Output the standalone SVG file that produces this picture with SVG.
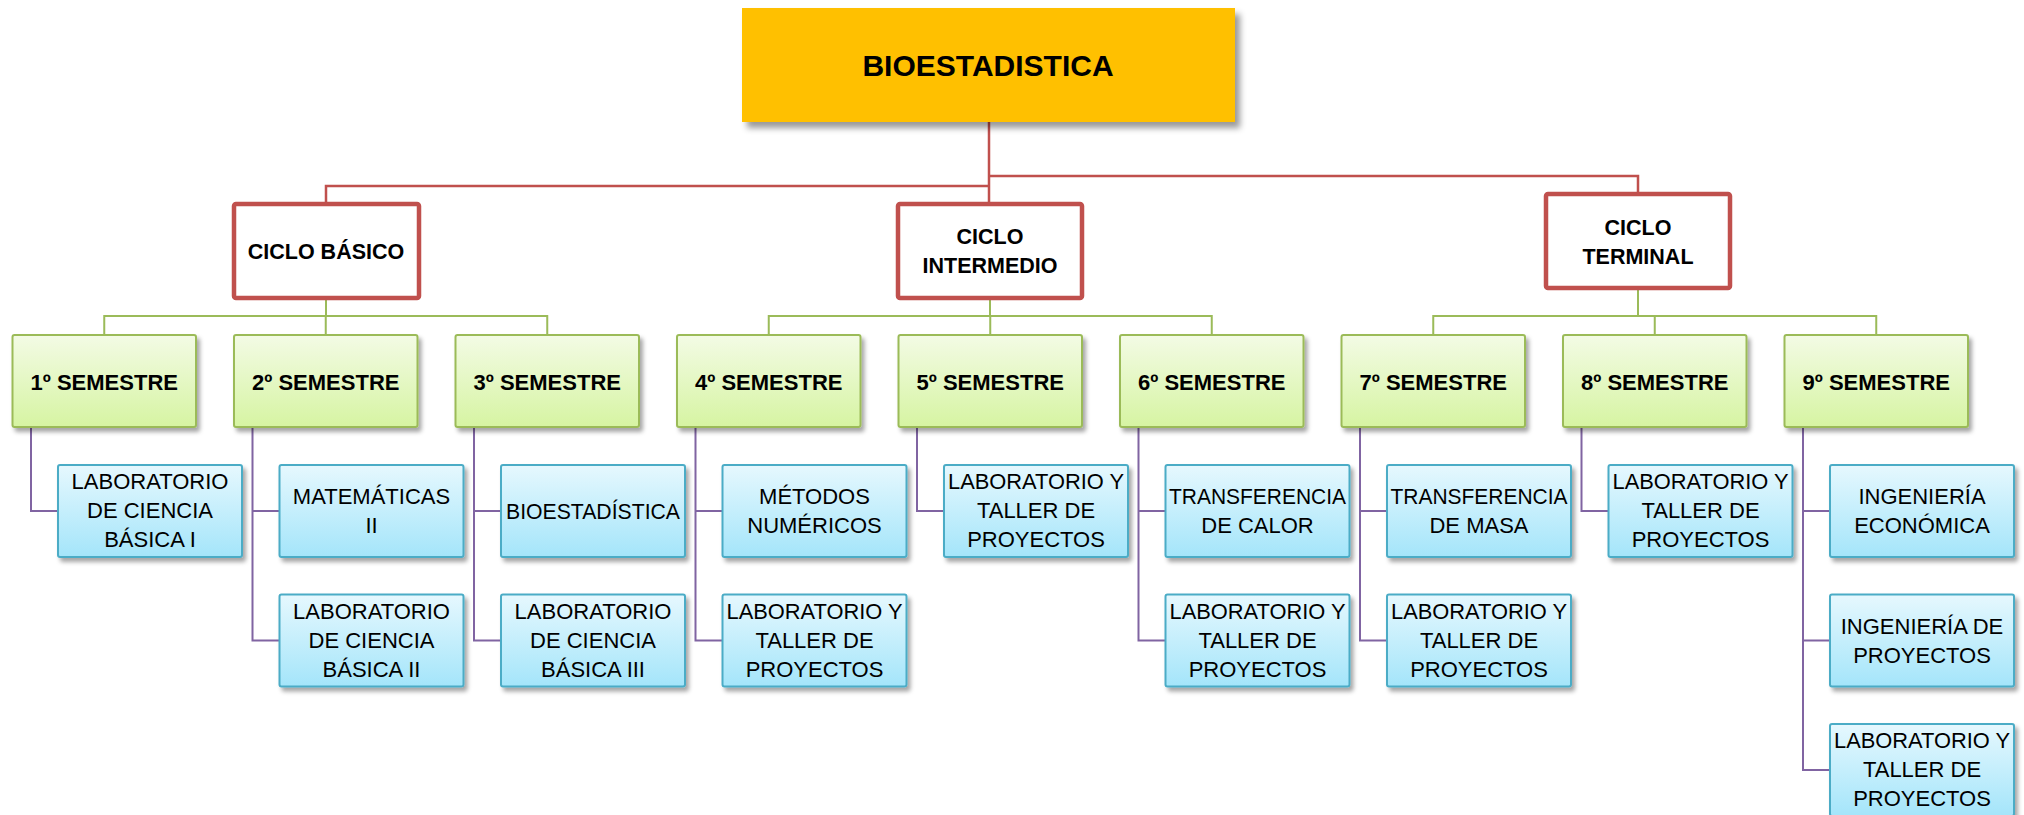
<svg xmlns="http://www.w3.org/2000/svg" width="2024" height="815" viewBox="0 0 2024 815">
<defs>
<linearGradient id="gGreen" x1="0" y1="0" x2="0" y2="1"><stop offset="0" stop-color="#F3FBE5"/><stop offset="1" stop-color="#D6F4A2"/></linearGradient>
<linearGradient id="gBlue" x1="0" y1="0" x2="0" y2="1"><stop offset="0" stop-color="#E6F8FE"/><stop offset="1" stop-color="#A4E5FA"/></linearGradient>
<filter id="sh" x="-10%" y="-10%" width="130%" height="140%"><feDropShadow dx="3" dy="4" stdDeviation="2" flood-color="#000" flood-opacity="0.35"/></filter>
<filter id="shBig" x="-10%" y="-10%" width="130%" height="140%"><feDropShadow dx="5" dy="6" stdDeviation="3" flood-color="#000" flood-opacity="0.4"/></filter>
<style>
.t{font-family:"Liberation Sans",Arial,sans-serif;fill:#000;text-anchor:middle}
.root{font-size:30px;font-weight:bold}
.cyc{font-size:21.5px;font-weight:bold}
.sem{font-size:22px;font-weight:bold}
.sub{font-size:22px}
.rootbox{fill:#FFC000}
.cycbox{fill:#FFFFFF;stroke:#C0504D;stroke-width:4.5}
.sembox{fill:url(#gGreen);stroke:#9BBB59;stroke-width:2}
.subbox{fill:url(#gBlue);stroke:#4BACC6;stroke-width:2}
.red{fill:none;stroke:#C0504D;stroke-width:2.5}
.grn{fill:none;stroke:#9BBB59;stroke-width:2}
.pur{fill:none;stroke:#8064A2;stroke-width:2}
</style>
</defs>

<g id="connectors">
<path class="red" d="M989,122 V204 M989,176 H1638 V194 M989,186 H326 V204"/>
<path class="grn" d="M326,298 V316 M104.25,335 V316 H547.25 V335 M325.75,316 V335"/>
<path class="grn" d="M990,298 V316 M768.75,335 V316 H1211.75 V335 M990.25,316 V335"/>
<path class="grn" d="M1638,288 V316 M1433.25,335 V316 H1876.25 V335 M1654.75,316 V335"/>
<path class="pur" d="M31,427 V511 H58"/>
<path class="pur" d="M252.5,427 V640.5 H279.5 M252.5,511 H279.5"/>
<path class="pur" d="M474,427 V640.5 H501 M474,511 H501"/>
<path class="pur" d="M695.5,427 V640.5 H722.5 M695.5,511 H722.5"/>
<path class="pur" d="M917,427 V511 H944"/>
<path class="pur" d="M1138.5,427 V640.5 H1165.5 M1138.5,511 H1165.5"/>
<path class="pur" d="M1360,427 V640.5 H1387 M1360,511 H1387"/>
<path class="pur" d="M1581.5,427 V511 H1608.5"/>
<path class="pur" d="M1803,427 V770 H1830 M1803,511 H1830 M1803,640.5 H1830"/>
</g>

<g id="root"><rect class="rootbox" x="742" y="8" width="493" height="114" filter="url(#shBig)"/><text class="t root" x="988" y="76">BIOESTADISTICA</text></g>

<g id="ciclo-basico"><rect class="cycbox" x="234" y="204" width="185" height="94" rx="2"/><text class="t cyc" x="326" y="259">CICLO BÁSICO</text></g>
<g id="ciclo-intermedio"><rect class="cycbox" x="898" y="204" width="184" height="94" rx="2"/><text class="t cyc" x="990" y="244">CICLO</text><text class="t cyc" x="990" y="273">INTERMEDIO</text></g>
<g id="ciclo-terminal"><rect class="cycbox" x="1546" y="194" width="184" height="94" rx="2"/><text class="t cyc" x="1638" y="235">CICLO</text><text class="t cyc" x="1638" y="264">TERMINAL</text></g>

<g id="sem1"><rect class="sembox" x="12.5" y="335" width="183.5" height="92" rx="2" filter="url(#sh)"/><text class="t sem" x="104.25" y="390">1º SEMESTRE</text></g>
<g id="sem2"><rect class="sembox" x="234" y="335" width="183.5" height="92" rx="2" filter="url(#sh)"/><text class="t sem" x="325.75" y="390">2º SEMESTRE</text></g>
<g id="sem3"><rect class="sembox" x="455.5" y="335" width="183.5" height="92" rx="2" filter="url(#sh)"/><text class="t sem" x="547.25" y="390">3º SEMESTRE</text></g>
<g id="sem4"><rect class="sembox" x="677" y="335" width="183.5" height="92" rx="2" filter="url(#sh)"/><text class="t sem" x="768.75" y="390">4º SEMESTRE</text></g>
<g id="sem5"><rect class="sembox" x="898.5" y="335" width="183.5" height="92" rx="2" filter="url(#sh)"/><text class="t sem" x="990.25" y="390">5º SEMESTRE</text></g>
<g id="sem6"><rect class="sembox" x="1120" y="335" width="183.5" height="92" rx="2" filter="url(#sh)"/><text class="t sem" x="1211.75" y="390">6º SEMESTRE</text></g>
<g id="sem7"><rect class="sembox" x="1341.5" y="335" width="183.5" height="92" rx="2" filter="url(#sh)"/><text class="t sem" x="1433.25" y="390">7º SEMESTRE</text></g>
<g id="sem8"><rect class="sembox" x="1563" y="335" width="183.5" height="92" rx="2" filter="url(#sh)"/><text class="t sem" x="1654.75" y="390">8º SEMESTRE</text></g>
<g id="sem9"><rect class="sembox" x="1784.5" y="335" width="183.5" height="92" rx="2" filter="url(#sh)"/><text class="t sem" x="1876.25" y="390">9º SEMESTRE</text></g>

<g id="s1a"><rect class="subbox" x="58" y="465" width="184" height="92" rx="2" filter="url(#sh)"/><text class="t sub" x="150" y="489">LABORATORIO</text><text class="t sub" x="150" y="518">DE CIENCIA</text><text class="t sub" x="150" y="547">BÁSICA I</text></g>

<g id="s2a"><rect class="subbox" x="279.5" y="465" width="184" height="92" rx="2" filter="url(#sh)"/><text class="t sub" x="371.5" y="504">MATEMÁTICAS</text><text class="t sub" x="371.5" y="533">II</text></g>
<g id="s2b"><rect class="subbox" x="279.5" y="594.5" width="184" height="92" rx="2" filter="url(#sh)"/><text class="t sub" x="371.5" y="618.5">LABORATORIO</text><text class="t sub" x="371.5" y="647.5">DE CIENCIA</text><text class="t sub" x="371.5" y="676.5">BÁSICA II</text></g>

<g id="s3a"><rect class="subbox" x="501" y="465" width="184" height="92" rx="2" filter="url(#sh)"/><text class="t sub" x="593" y="519" textLength="174" lengthAdjust="spacingAndGlyphs">BIOESTADÍSTICA</text></g>
<g id="s3b"><rect class="subbox" x="501" y="594.5" width="184" height="92" rx="2" filter="url(#sh)"/><text class="t sub" x="593" y="618.5">LABORATORIO</text><text class="t sub" x="593" y="647.5">DE CIENCIA</text><text class="t sub" x="593" y="676.5">BÁSICA III</text></g>

<g id="s4a"><rect class="subbox" x="722.5" y="465" width="184" height="92" rx="2" filter="url(#sh)"/><text class="t sub" x="814.5" y="504">MÉTODOS</text><text class="t sub" x="814.5" y="533">NUMÉRICOS</text></g>
<g id="s4b"><rect class="subbox" x="722.5" y="594.5" width="184" height="92" rx="2" filter="url(#sh)"/><text class="t sub" x="814.5" y="618.5" textLength="176" lengthAdjust="spacingAndGlyphs">LABORATORIO Y</text><text class="t sub" x="814.5" y="647.5">TALLER DE</text><text class="t sub" x="814.5" y="676.5">PROYECTOS</text></g>

<g id="s5a"><rect class="subbox" x="944" y="465" width="184" height="92" rx="2" filter="url(#sh)"/><text class="t sub" x="1036" y="489" textLength="176" lengthAdjust="spacingAndGlyphs">LABORATORIO Y</text><text class="t sub" x="1036" y="518">TALLER DE</text><text class="t sub" x="1036" y="547">PROYECTOS</text></g>

<g id="s6a"><rect class="subbox" x="1165.5" y="465" width="184" height="92" rx="2" filter="url(#sh)"/><text class="t sub" x="1257.5" y="504" textLength="177" lengthAdjust="spacingAndGlyphs">TRANSFERENCIA</text><text class="t sub" x="1257.5" y="533">DE CALOR</text></g>
<g id="s6b"><rect class="subbox" x="1165.5" y="594.5" width="184" height="92" rx="2" filter="url(#sh)"/><text class="t sub" x="1257.5" y="618.5" textLength="176" lengthAdjust="spacingAndGlyphs">LABORATORIO Y</text><text class="t sub" x="1257.5" y="647.5">TALLER DE</text><text class="t sub" x="1257.5" y="676.5">PROYECTOS</text></g>

<g id="s7a"><rect class="subbox" x="1387" y="465" width="184" height="92" rx="2" filter="url(#sh)"/><text class="t sub" x="1479" y="504" textLength="177" lengthAdjust="spacingAndGlyphs">TRANSFERENCIA</text><text class="t sub" x="1479" y="533">DE MASA</text></g>
<g id="s7b"><rect class="subbox" x="1387" y="594.5" width="184" height="92" rx="2" filter="url(#sh)"/><text class="t sub" x="1479" y="618.5" textLength="176" lengthAdjust="spacingAndGlyphs">LABORATORIO Y</text><text class="t sub" x="1479" y="647.5">TALLER DE</text><text class="t sub" x="1479" y="676.5">PROYECTOS</text></g>

<g id="s8a"><rect class="subbox" x="1608.5" y="465" width="184" height="92" rx="2" filter="url(#sh)"/><text class="t sub" x="1700.5" y="489" textLength="176" lengthAdjust="spacingAndGlyphs">LABORATORIO Y</text><text class="t sub" x="1700.5" y="518">TALLER DE</text><text class="t sub" x="1700.5" y="547">PROYECTOS</text></g>

<g id="s9a"><rect class="subbox" x="1830" y="465" width="184" height="92" rx="2" filter="url(#sh)"/><text class="t sub" x="1922" y="504">INGENIERÍA</text><text class="t sub" x="1922" y="533">ECONÓMICA</text></g>
<g id="s9b"><rect class="subbox" x="1830" y="594.5" width="184" height="92" rx="2" filter="url(#sh)"/><text class="t sub" x="1922" y="633.5">INGENIERÍA DE</text><text class="t sub" x="1922" y="662.5">PROYECTOS</text></g>
<g id="s9c"><rect class="subbox" x="1830" y="724" width="184" height="92" rx="2" filter="url(#sh)"/><text class="t sub" x="1922" y="748" textLength="176" lengthAdjust="spacingAndGlyphs">LABORATORIO Y</text><text class="t sub" x="1922" y="777">TALLER DE</text><text class="t sub" x="1922" y="806">PROYECTOS</text></g>
</svg>
